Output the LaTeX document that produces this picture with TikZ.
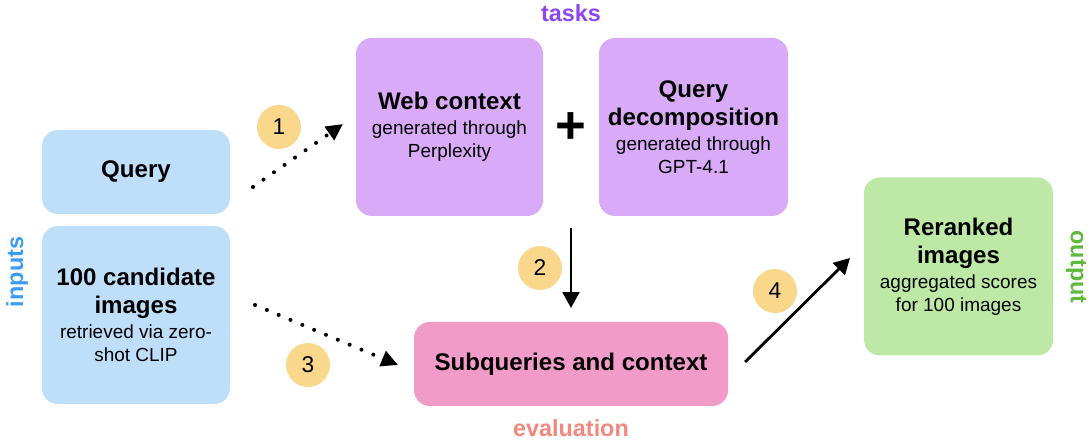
\documentclass[tikz,border=0pt]{standalone}
\usepackage{fontspec}
\setmainfont{Liberation Sans}
\usetikzlibrary{arrows.meta}
\begin{document}
\begin{tikzpicture}[
        box/.style={draw=none, shape=rectangle, rounded corners=9pt, align=center, inner sep=0pt},
        step circ/.style={shape=circle, fill=Ccircle, minimum size=0.88cm, inner sep=0pt, font=\fontsize{13}{15}\selectfont},
        dotarrow/.style={line width=2.3pt, line cap=round, dash pattern=on 0pt off 7.3pt, -{Triangle[length=9.5pt, width=9pt]}},
        solidarrow/.style={line width=1.6pt, -{Triangle[length=9pt, width=9.5pt]}},
        sidelabel/.style={font=\bfseries\fontsize{13.3}{15}\selectfont}
    ]
    \definecolor{Cinput}{RGB}{190, 222, 250}
    \definecolor{Ctask}{RGB}{217, 170, 247}
    \definecolor{Ceval}{RGB}{240, 155, 200}
    \definecolor{Cout}{RGB}{190, 232, 165}
    \definecolor{Ccircle}{RGB}{249, 216, 140}
    \definecolor{Ttask}{RGB}{140, 70, 240}
    \definecolor{Teval}{RGB}{242, 135, 125}
    \definecolor{Tinput}{RGB}{60, 155, 245}
    \definecolor{Tout}{RGB}{95, 185, 60}
    \def\boxwidth{3.76cm}
    \def\tallbox{3.56cm}
    \def\flatbox{1.68cm}
    \def\bigtxt{\bfseries\fontsize{13.7}{15.9}\selectfont}
    \def\smalltxt{\mdseries\fontsize{10.8}{15.9}\selectfont}
    \def\gapA{-1.7pt}
    \def\gapB{-2.9pt}
    \useasboundingbox (0, 0) rectangle (21.8, 8.84);
    % inputs
    \node[box, fill=Cinput, minimum width=\boxwidth, minimum height=\flatbox, font=\bigtxt] (query) at (2.72, 5.4) {Query};
    \node[box, fill=Cinput, minimum width=\boxwidth, minimum height=\tallbox, font=\bigtxt] (cands) at (2.72, 2.54) {100 candidate\\images\\[\gapA]\smalltxt retrieved via zero-\\[\gapB]\smalltxt shot CLIP};
    \node[sidelabel, text=Tinput, rotate=90] (inputs) at (0.34, 3.4) {inputs};
    % tasks
    \node[box, fill=Ctask, minimum width=3.74cm, minimum height=\tallbox, font=\bigtxt] (web) at (8.99, 6.3) {Web context\\[\gapA]\smalltxt generated through\\[\gapB]\smalltxt Perplexity};
    \node[box, fill=Ctask, minimum width=3.78cm, minimum height=\tallbox, font=\bigtxt] (decomp) at (13.87, 6.3) {Query\\decomposition\\[\gapA]\smalltxt generated through\\[\gapB]\smalltxt GPT-4.1};
    \node[font=\bfseries\fontsize{30}{30}\selectfont] (plus) at (11.42, 6.28) {+};
    \node[sidelabel, text=Ttask] (tasks) at (11.42, 8.58) {tasks};
    % evaluation
    \node[box, fill=Ceval, minimum width=6.28cm, minimum height=\flatbox, font=\bigtxt] (subq) at (11.42, 1.56) {Subqueries and context};
    \node[sidelabel, text=Teval] (evaluation) at (11.42, 0.28) {evaluation};
    % output
    \node[box, fill=Cout, minimum width=3.78cm, minimum height=\tallbox, font=\bigtxt] (rerank) at (19.17, 3.51) {Reranked\\images\\[\gapA]\smalltxt aggregated scores\\[\gapB]\smalltxt for 100 images};
    \node[sidelabel, text=Tout, rotate=-90] (output) at (21.52, 3.5) {output};
    % step numbers
    \node[step circ] (s1) at (5.58, 6.3) {1};
    \node[step circ] (s2) at (10.8, 3.48) {2};
    \node[step circ] (s3) at (6.16, 1.54) {3};
    \node[step circ] (s4) at (15.5, 3.02) {4};
    % arrows
    \coordinate (a1s) at (5.06, 5.1);
    \coordinate (a1e) at (6.86, 6.36);
    \coordinate (a3s) at (5.1, 2.74);
    \coordinate (a3e) at (7.96, 1.54);
    \coordinate (a2s) at (11.42, 4.28);
    \coordinate (a2e) at (11.42, 2.68);
    \coordinate (a4s) at (14.9, 1.6);
    \coordinate (a4e) at (17.0, 3.68);
    \draw[dotarrow] (a1s) -- (a1e);
    \draw[dotarrow] (a3s) -- (a3e);
    \draw[solidarrow] (a2s) -- (a2e);
    \draw[solidarrow] (a4s) -- (a4e);
\end{tikzpicture}
\end{document}
